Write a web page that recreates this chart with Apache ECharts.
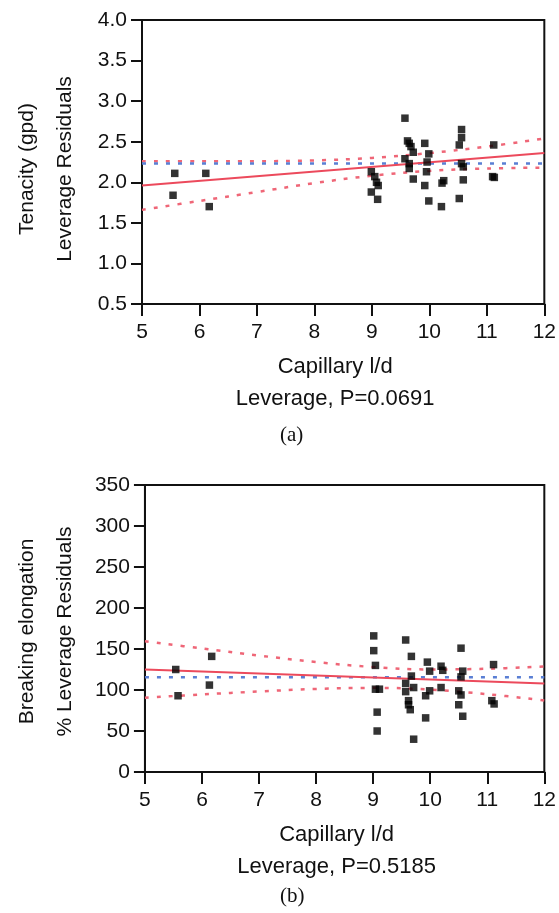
<!DOCTYPE html>
<html>
<head>
<meta charset="utf-8">
<script src="https://cdn.jsdelivr.net/npm/echarts@6/dist/echarts.min.js"></script>
<style>html,body{margin:0;padding:0;background:#fff;}#c{width:559px;height:913px;}</style>
</head>
<body>
<div id="c"></div>
<script>
// ---- Data (a) Tenacity ----
const topX = [5.57,6.11,5.54,6.17,9.575,9.62,9.65,9.68,9.72,9.92,9.99,9.96,9.575,9.65,9.65,9.72,9.95,9.92,10.25,10.22,9.99,10.21,10.56,10.56,10.52,10.56,10.59,10.59,10.52,11.12,11.10,11.13,8.99,9.05,9.08,9.11,8.99,9.10];
const topY = [2.11,2.11,1.84,1.70,2.79,2.51,2.48,2.44,2.37,2.48,2.35,2.25,2.29,2.23,2.17,2.04,2.13,1.96,2.02,1.99,1.77,1.70,2.65,2.55,2.46,2.23,2.19,2.03,1.80,2.46,2.07,2.06,2.13,2.07,2.00,1.96,1.88,1.79];
const curveX = [5,6,7,8,9,10,11,12];
const topUpper = [2.26,2.26,2.26,2.27,2.30,2.36,2.44,2.54];
const topLower = [1.66,1.77,1.88,1.99,2.08,2.14,2.17,2.18];
const topFitX = [5,12];
const topFitY = [1.96,2.36];
const topMean = 2.23;
const topYTicks = {min:0.5, max:4.0, interval:0.5};

// ---- Data (b) Breaking elongation ----
const botX = [5.54,6.17,6.13,5.58,9.01,9.01,9.04,9.04,9.11,9.07,9.07,9.57,9.67,9.67,9.57,9.71,9.57,9.62,9.62,9.65,9.71,9.95,9.99,9.99,9.92,9.92,10.19,10.22,10.19,10.54,10.57,10.54,10.50,10.54,10.50,10.57,11.11,11.08,11.12];
const botY = [125,141,106,93,166,148,130,101,101,73,50,161,141,117,108,103,98,87,82,76,40,134,123,99,93,66,129,124,103,151,123,116,99,94,82,68,131,87,83];
const botUpper = [159.5,150.6,142.0,134.1,128.0,125.1,125.9,128.7];
const botLower = [90.5,94.6,98.2,101.3,102.6,100.5,94.9,87.3];
const botFitX = [5,12];
const botFitY = [125,108];
const botMean = 115.5;
const botYTicks = {min:0, max:350, interval:50};

const xTicks = {min:5, max:12, interval:1};
const xName = 'Capillary l/d';
const topTitle = 'Tenacity (gpd)\nLeverage Residuals';
const botTitle = 'Breaking elongation\n% Leverage Residuals';
const topP = 'Leverage, P=0.0691';
const botP = 'Leverage, P=0.5185';

// ---- build ----
const FONT = "'Liberation Sans', Arial, sans-serif";
const INK = '#111';
const RED = '#ec4a5c';
const REDDOT = '#ef6677';
const BLUEDOT = '#5a7fd4';
const DOTS = [4, 8];
const zip = (xs, ys) => xs.map((x, i) => [x, ys[i]]);

function xAxisDef(gi, pLabel) {
  return {
    gridIndex: gi, type: 'value', min: xTicks.min, max: xTicks.max, interval: xTicks.interval,
    axisLine: {show: true, onZero: false, lineStyle: {color: INK, width: 2}},
    axisTick: {show: true, length: 12, lineStyle: {color: INK, width: 2}},
    axisLabel: {color: INK, fontFamily: FONT, fontSize: 21, margin: 18},
    splitLine: {show: false},
    name: xName + '\n' + pLabel, nameLocation: 'middle', nameGap: 47,
    nameTextStyle: {color: INK, fontFamily: FONT, fontSize: 22, lineHeight: 32, padding: [0, 16, 0, 0]}
  };
}
function yAxisDef(gi, t, title, fmt, pad) {
  return {
    gridIndex: gi, type: 'value', min: t.min, max: t.max, interval: t.interval,
    axisLine: {show: true, onZero: false, lineStyle: {color: INK, width: 2}},
    axisTick: {show: true, length: 11, lineStyle: {color: INK, width: 2}},
    axisLabel: {color: INK, fontFamily: FONT, fontSize: 21, margin: 15, formatter: fmt},
    splitLine: {show: false},
    name: title, nameLocation: 'middle', nameGap: 58, nameRotate: 90,
    nameTextStyle: {color: INK, fontFamily: FONT, fontSize: 21, lineHeight: 38, padding: [0, pad, 0, 0]}
  };
}
function lineS(gi, data, color, type, width, smooth) {
  return {
    type: 'line', xAxisIndex: gi, yAxisIndex: gi, data: data, showSymbol: false, symbol: 'none',
    smooth: smooth ? 0.4 : false, silent: true, z: 2,
    lineStyle: {color: color, width: width, type: type, cap: 'butt'}
  };
}
function scatterS(gi, data) {
  return {
    type: 'scatter', xAxisIndex: gi, yAxisIndex: gi, data: data, symbol: 'rect', symbolSize: 7.5,
    itemStyle: {color: '#000'}, z: 5, silent: true
  };
}

const chart = echarts.init(document.getElementById('c'), null, {renderer: 'canvas'});
chart.setOption({
  animation: false,
  backgroundColor: '#fff',
  grid: [
    {left: 141, width: 408, top: 20, height: 284, show: true, borderColor: INK, borderWidth: 2, backgroundColor: 'transparent'},
    {left: 144, width: 405, top: 485, height: 287, show: true, borderColor: INK, borderWidth: 2, backgroundColor: 'transparent'}
  ],
  xAxis: [xAxisDef(0, topP), xAxisDef(1, botP)],
  yAxis: [
    yAxisDef(0, topYTicks, topTitle, v => v.toFixed(1), 14),
    yAxisDef(1, botYTicks, botTitle, v => String(v), 6)
  ],
  series: [
    lineS(0, zip(curveX, topUpper), REDDOT, DOTS, 2.5, true),
    lineS(0, zip(curveX, topLower), REDDOT, DOTS, 2.5, true),
    lineS(0, [[xTicks.min, topMean], [xTicks.max, topMean]], BLUEDOT, DOTS, 2.5, false),
    lineS(0, zip(topFitX, topFitY), RED, 'solid', 2, false),
    scatterS(0, zip(topX, topY)),
    lineS(1, zip(curveX, botUpper), REDDOT, DOTS, 2.5, true),
    lineS(1, zip(curveX, botLower), REDDOT, DOTS, 2.5, true),
    lineS(1, [[xTicks.min, botMean], [xTicks.max, botMean]], BLUEDOT, DOTS, 2.5, false),
    lineS(1, zip(botFitX, botFitY), RED, 'solid', 2, false),
    scatterS(1, zip(botX, botY))
  ],
  graphic: [
    {type: 'text', left: 280, top: 425, style: {text: '(a)', font: "21px 'Liberation Serif', 'Times New Roman', serif", fill: INK}},
    {type: 'text', left: 280, top: 886, style: {text: '(b)', font: "21px 'Liberation Serif', 'Times New Roman', serif", fill: INK}}
  ]
});
</script>
</body>
</html>
